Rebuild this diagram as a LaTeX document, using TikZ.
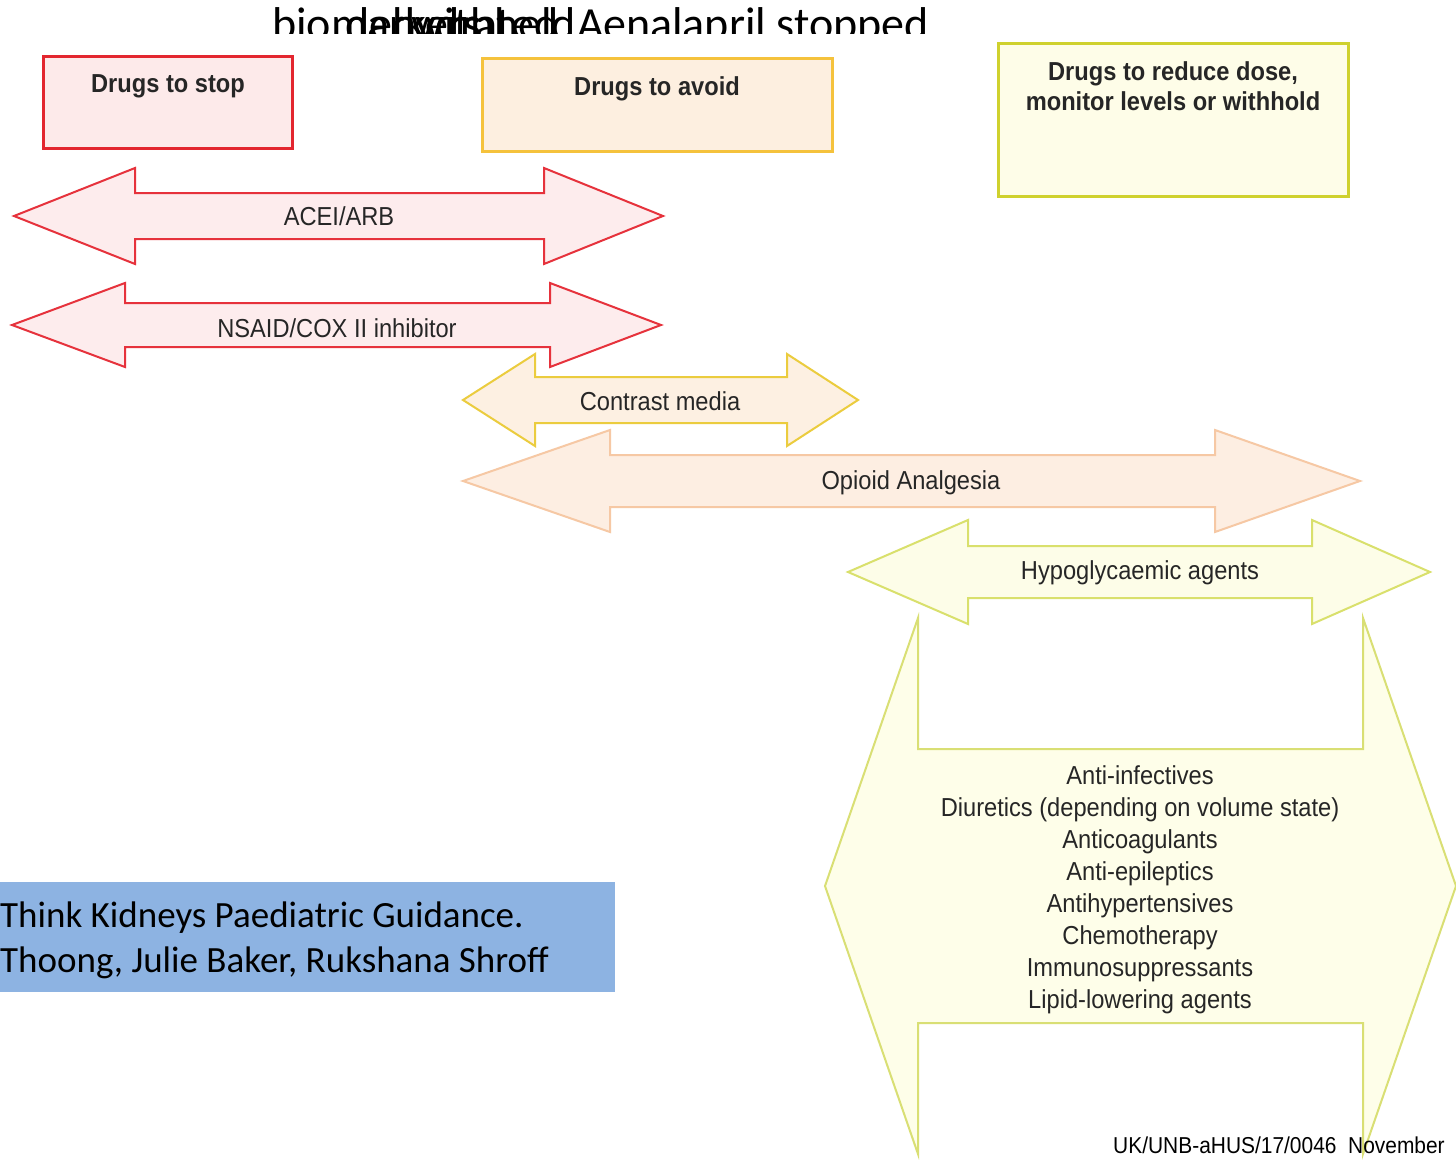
\documentclass[tikz,border=0pt]{standalone}
\usepackage{fontspec}
\setmainfont{Liberation Sans}[FakeStretch=0.91]
\newfontfamily\calibrifont{Carlito}
\definecolor{stopline}{HTML}{E3262F}
\definecolor{stopfill}{HTML}{FDEAEA}
\definecolor{avoidline}{HTML}{F5C23C}
\definecolor{avoidfill}{HTML}{FDEFE0}
\definecolor{redline}{HTML}{CFD12E}
\definecolor{redfill}{HTML}{FEFDE8}
\definecolor{arrred}{HTML}{E6323C}
\definecolor{arrredfill}{HTML}{FDECED}
\definecolor{contline}{HTML}{EBCC3E}
\definecolor{contfill}{HTML}{FDF0E2}
\definecolor{opline}{HTML}{F6C8A4}
\definecolor{opfill}{HTML}{FDEEE2}
\definecolor{hypoline}{HTML}{D9E06C}
\definecolor{hypofill}{HTML}{FDFDE8}
\definecolor{bigline}{HTML}{D9DF74}
\definecolor{bigfill}{HTML}{FEFEE9}
\definecolor{bluebox}{HTML}{8DB3E2}
% #1 style, #2 left tip x, #3 left base x, #4 right base x, #5 right tip x, #6 centre y, #7 head half height, #8 shaft half height
\newcommand\dblarrowshape[8]{%
  \filldraw[#1] (#2,#6) -- (#3,#6-#7) -- (#3,#6-#8) -- (#4,#6-#8) -- (#4,#6-#7) -- (#5,#6)
    -- (#4,#6+#7) -- (#4,#6+#8) -- (#3,#6+#8) -- (#3,#6+#7) -- cycle;}
\tikzset{
  catbox/.style={line width=3pt},
  arrowshape/.style={line width=2pt, line join=miter},
  headtext/.style={anchor=base, font=\fontsize{26}{30}\selectfont\bfseries, text=black!85},
  labeltext/.style={anchor=base, font=\fontsize{26}{30}\selectfont, text=black!85},
  calibritext/.style={anchor=base west, font=\calibrifont\fontsize{37}{44}\selectfont, inner sep=0pt},
  toptext/.style={anchor=base west, font=\calibrifont\fontsize{46}{54}\selectfont, inner sep=0pt}
}
\begin{document}
\begin{tikzpicture}[x=1pt,y=-1pt]
\clip (0,0) rectangle (1456,1159);
\fill[white] (0,0) rectangle (1456,1159);
% clipped title remnants
\begin{scope}
\clip (0,0) rectangle (1456,33);
\node[toptext] (t1) at (272,39) {biomarkers};
\node[toptext] (t2) at (345,39) {dehydrated};
\node[toptext] (t3) at (411,39) {withheld};
\node[toptext] (t4) at (577,39) {A};
\node[toptext] (t5) at (603,39) {enalapril stopped};
\end{scope}
% category boxes
\filldraw[catbox, draw=stopline, fill=stopfill] (43,56) rectangle (292,148);
\node[headtext] (stop) at (168,92) {Drugs to stop};
\filldraw[catbox, draw=avoidline, fill=avoidfill] (482,58) rectangle (832,151);
\node[headtext] (avoid) at (657,95) {Drugs to avoid};
\filldraw[catbox, draw=redline, fill=redfill] (998,43) rectangle (1348,196);
\node[headtext] (reduce1) at (1173,80) {Drugs to reduce dose,};
\node[headtext] (reduce2) at (1173,110) {monitor levels or withhold};
% double arrows
\dblarrowshape{arrowshape, draw=arrred, fill=arrredfill}{14}{135}{544}{663}{216}{48}{23}
\node[labeltext] (acei) at (339,225) {ACEI/ARB};
\dblarrowshape{arrowshape, draw=arrred, fill=arrredfill}{12}{125}{550}{661}{325}{42}{22}
\node[labeltext] (nsaid) at (337,337) {NSAID/COX II inhibitor};
\dblarrowshape{arrowshape, draw=contline, fill=contfill}{463}{535}{787}{858}{400}{46}{23}
\node[labeltext] (contrast) at (660,410) {Contrast media};
\dblarrowshape{arrowshape, draw=opline, fill=opfill}{463}{610}{1215}{1360}{481}{51}{26}
\node[labeltext] (opioid) at (911,489) {Opioid Analgesia};
\dblarrowshape{arrowshape, draw=hypoline, fill=hypofill}{848}{968}{1312}{1430}{572}{52}{26}
\node[labeltext] (hypo) at (1140,579) {Hypoglycaemic agents};
\dblarrowshape{arrowshape, draw=bigline, fill=bigfill}{825}{918}{1363}{1456}{886}{268}{137}
\node[labeltext] (l1) at (1140,784) {Anti-infectives};
\node[labeltext] (l2) at (1140,816) {Diuretics (depending on volume state)};
\node[labeltext] (l3) at (1140,848) {Anticoagulants};
\node[labeltext] (l4) at (1140,880) {Anti-epileptics};
\node[labeltext] (l5) at (1140,912) {Antihypertensives};
\node[labeltext] (l6) at (1140,944) {Chemotherapy};
\node[labeltext] (l7) at (1140,976) {Immunosuppressants};
\node[labeltext] (l8) at (1140,1008) {Lipid-lowering agents};
% reference box
\fill[bluebox] (0,882) rectangle (615,992);
\node[calibritext] (ref1) at (0,927) {Think Kidneys Paediatric Guidance.};
\node[calibritext] (ref2) at (0,972) {Thoong, Julie Baker, Rukshana Shroff};
% footer
\node[anchor=base west, inner sep=0pt, font=\fontsize{23}{27}\selectfont] (foot) at (1113,1153) {UK/UNB-aHUS/17/0046\ \ November};
\end{tikzpicture}
\end{document}
